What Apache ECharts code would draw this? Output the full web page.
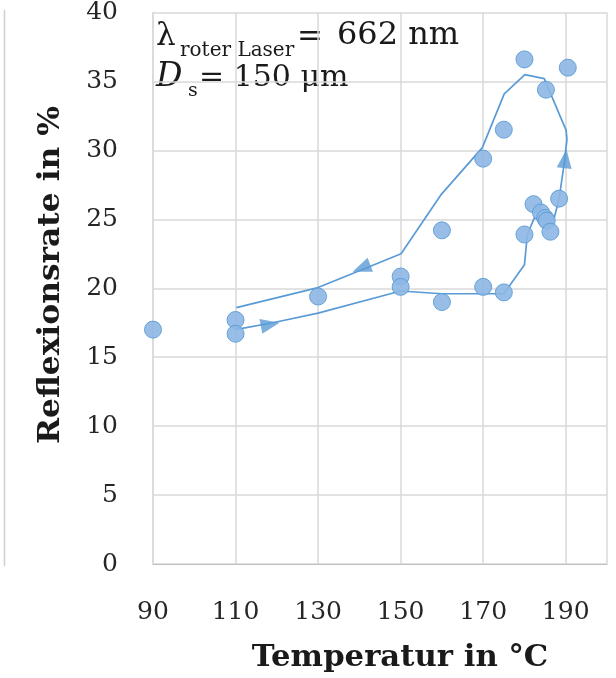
<!DOCTYPE html>
<html>
<head>
<meta charset="utf-8">
<script src="https://cdn.jsdelivr.net/npm/echarts@6/dist/echarts.min.js"></script>
<style>
html,body{margin:0;padding:0;background:#fff;}
#chart{width:616px;height:678px;}
</style>
</head>
<body>
<div id="chart"></div>
<script>
// Measured points (temperature in °C, reflectance in %)
var pointX = [90, 110, 110, 130, 150, 150, 160, 160, 170, 170, 175, 175, 180, 180, 182.2, 184, 185, 185.4, 186.3, 185.2, 188.4, 190.5];
var pointY = [17.0, 17.7, 16.7, 19.4, 20.85, 20.1, 19.0, 24.2, 20.1, 29.4, 19.7, 31.5, 36.6, 23.9, 26.1, 25.5, 25.1, 24.9, 24.1, 34.4, 26.5, 36.0];

// Hand-drawn hysteresis path (heating then cooling)
var pathX = [110, 119, 130, 150, 160, 175, 180, 180.7, 182.4, 187.2, 188.4, 189.7, 190.3, 190.1, 184.8, 180.1, 175.1, 169.8, 159.7, 150.1, 140.3, 130, 110.2];
var pathY = [17.0, 17.5, 18.2, 19.8, 19.6, 19.6, 21.7, 23.9, 25.1, 25.1, 26.5, 29.2, 30.8, 31.45, 35.2, 35.5, 34.1, 30.2, 26.75, 22.5, 21.3, 20.05, 18.6];

// Direction arrows on the path
var arrowX = [118.4, 189.9, 140.5];
var arrowY = [17.36, 29.4, 21.45];
var arrowAngle = [-79, -7, 111];

// Axis ticks
var xTicks = [90, 110, 130, 150, 170, 190];
var yTicks = [0, 5, 10, 15, 20, 25, 30, 35, 40];

var chart = echarts.init(document.getElementById('chart'), null, {renderer: 'canvas'});

var blue = '#5b9bd5';
var serif = 'DejaVu Serif';
var ink = '#1a1a1a';

function zip(a, b) { return a.map(function (v, i) { return [v, b[i]]; }); }

var arrowData = arrowX.map(function (v, i) {
  return { value: [v, arrowY[i]], symbolRotate: arrowAngle[i] };
});

var option = {
  backgroundColor: '#ffffff',
  animation: false,
  grid: { left: 153, right: 9, top: 10, bottom: 114, containLabel: false },
  xAxis: {
    type: 'value',
    min: xTicks[0],
    max: 200,
    interval: 20,
    axisLine: { show: true, lineStyle: { color: '#bfbfbf', width: 1 } },
    axisTick: { show: false },
    axisLabel: {
      showMaxLabel: false,
      margin: 36,
      fontFamily: serif,
      fontSize: 25,
      color: '#262626'
    },
    splitLine: { show: true, lineStyle: { color: '#d9d9d9', width: 1.5 } }
  },
  yAxis: {
    type: 'value',
    min: yTicks[0],
    max: yTicks[yTicks.length - 1],
    interval: 5,
    axisLine: { show: true, lineStyle: { color: '#d9d9d9', width: 1.5 } },
    axisTick: { show: false },
    axisLabel: {
      margin: 35,
      fontFamily: serif,
      fontSize: 25,
      color: '#262626'
    },
    splitLine: { show: true, lineStyle: { color: '#d9d9d9', width: 1.5 } }
  },
  series: [
    {
      type: 'line',
      data: zip(pathX, pathY),
      showSymbol: false,
      symbol: 'none',
      smooth: false,
      lineStyle: { color: blue, width: 1.7 },
      z: 2
    },
    {
      type: 'scatter',
      data: zip(pointX, pointY),
      symbol: 'circle',
      symbolSize: 17,
      itemStyle: { color: '#8db7e4', borderColor: blue, borderWidth: 1, opacity: 0.9 },
      z: 3
    },
    {
      type: 'scatter',
      data: arrowData,
      symbol: 'triangle',
      symbolSize: [15, 19],
      itemStyle: { color: blue },
      z: 4
    }
  ],
  graphic: [
    {
      type: 'text', x: 51, y: 275, rotation: Math.PI / 2, scaleX: 1.08,
      style: { text: 'Reflexionsrate in %', font: 'bold 29px "DejaVu Serif"', fill: ink, align: 'center', verticalAlign: 'middle' }
    },
    {
      type: 'text', x: 400, y: 658, scaleX: 1.06,
      style: { text: 'Temperatur in °C', font: 'bold 29px "DejaVu Serif"', fill: ink, align: 'center', verticalAlign: 'middle' }
    },
    {
      type: 'text', x: 156, y: 37,
      style: { text: 'λ', font: '31px "DejaVu Serif"', fill: ink, align: 'left', verticalAlign: 'middle' }
    },
    {
      type: 'text', x: 180, y: 51,
      style: { text: 'roter Laser', font: '20px "DejaVu Serif"', fill: ink, align: 'left', verticalAlign: 'middle' }
    },
    {
      type: 'text', x: 297, y: 38,
      style: { text: '=', font: '31px "DejaVu Serif"', fill: ink, align: 'left', verticalAlign: 'middle' }
    },
    {
      type: 'text', x: 337, y: 36,
      style: { text: '662 nm', font: '32px "DejaVu Serif"', fill: ink, align: 'left', verticalAlign: 'middle' }
    },
    {
      type: 'text', x: 156, y: 77,
      style: { text: 'D', font: 'italic 33px "DejaVu Serif"', fill: ink, align: 'left', verticalAlign: 'middle' }
    },
    {
      type: 'text', x: 188, y: 91,
      style: { text: 's', font: '19px "DejaVu Serif"', fill: ink, align: 'left', verticalAlign: 'middle' }
    },
    {
      type: 'text', x: 199, y: 78,
      style: { text: '= 150 μm', font: '30px "DejaVu Serif"', fill: ink, align: 'left', verticalAlign: 'middle' }
    },
    {
      type: 'line', shape: { x1: 4.5, y1: 10, x2: 4.5, y2: 566 },
      style: { stroke: '#d0d0d0', lineWidth: 1.5 }
    }
  ]
};

chart.setOption(option);
</script>
</body>
</html>
